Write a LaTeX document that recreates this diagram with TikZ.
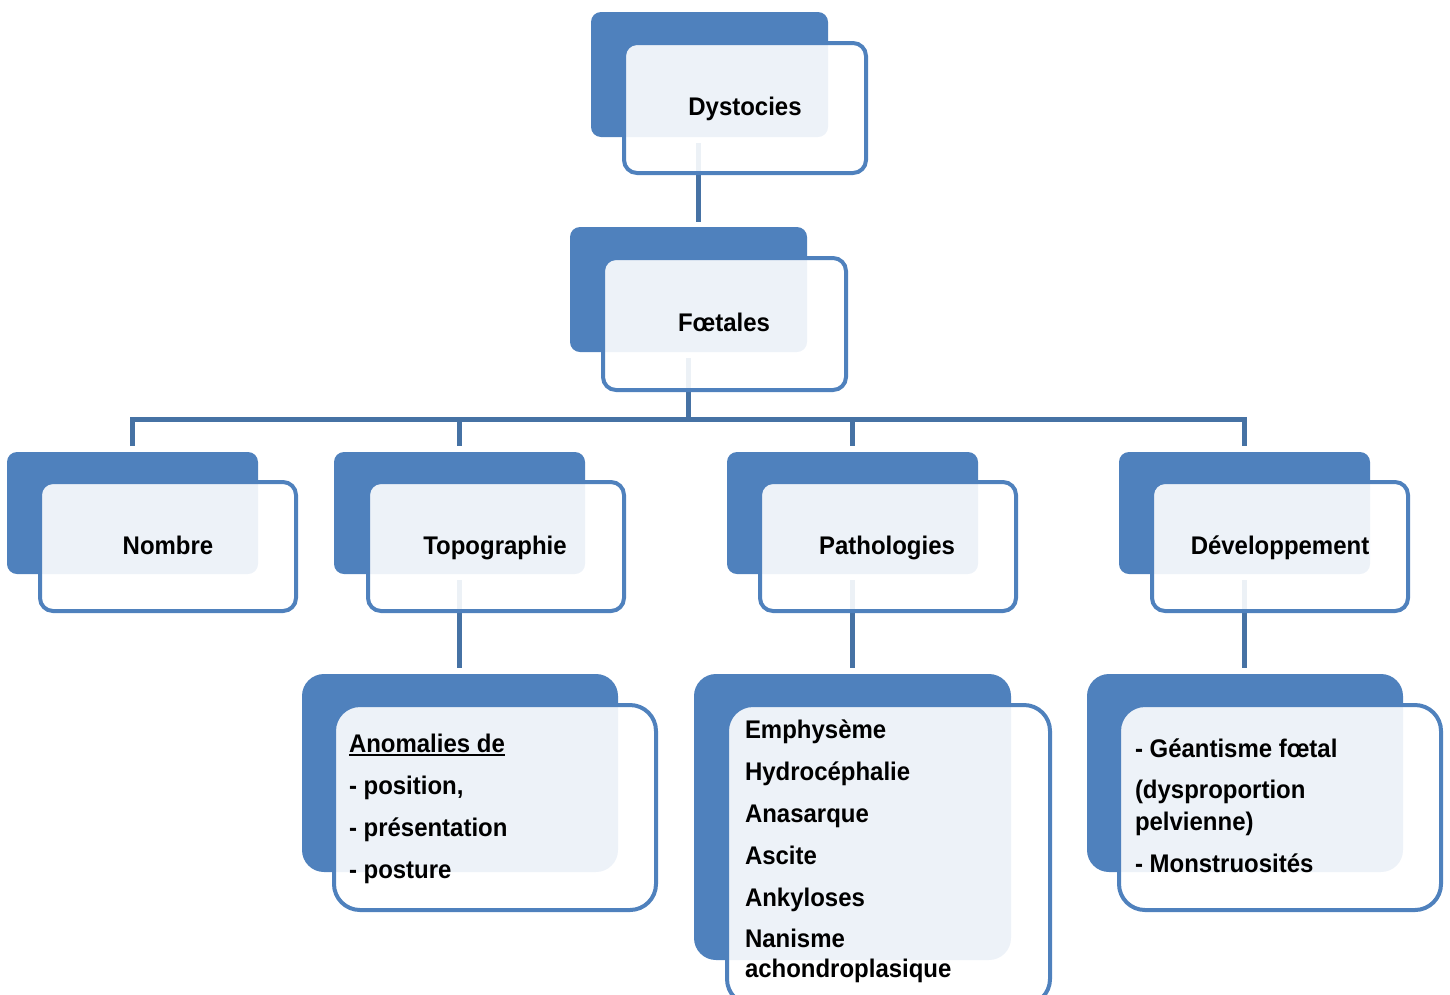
\documentclass[tikz,border=0pt]{standalone}
\usepackage{fontspec}
\setmainfont[FakeStretch=0.94]{Liberation Sans}
\definecolor{boxblue}{HTML}{4F81BD}
\definecolor{connblue}{HTML}{4672A4}
\begin{document}
\begin{tikzpicture}[x=1pt,y=-1pt,
  backbox/.style={shape=rectangle,anchor=north west,fill=boxblue,draw=none,inner sep=0pt,outer sep=0pt,rounded corners=10pt},
  frontbox/.style={shape=rectangle,anchor=north west,draw=boxblue,line width=4pt,fill=white,fill opacity=0.9,inner sep=0pt,outer sep=0pt,rounded corners=13pt},
  bigback/.style={backbox,rounded corners=22pt},
  bigfront/.style={frontbox,rounded corners=26pt},
  conn/.style={draw=connblue,line width=5pt},
  lbl/.style={font=\bfseries\fontsize{25.5}{30}\selectfont,inner sep=0pt,outer sep=0pt,text=black},
  ]
\useasboundingbox (0,0) rectangle (1450,994);
\clip (0,0) rectangle (1450,994);
% back boxes
\node[backbox,minimum width=237pt,minimum height=125pt] (dysB) at (591,12) {};
\node[backbox,minimum width=237pt,minimum height=125pt] (foeB) at (570,227) {};
\node[backbox,minimum width=251pt,minimum height=122pt] (nomB) at (7,452) {};
\node[backbox,minimum width=251pt,minimum height=122pt] (topB) at (334,452) {};
\node[backbox,minimum width=251pt,minimum height=122pt] (patB) at (727,452) {};
\node[backbox,minimum width=251pt,minimum height=122pt] (devB) at (1119,452) {};
\node[bigback,minimum width=316pt,minimum height=198pt] (anoB) at (302,674) {};
\node[bigback,minimum width=317pt,minimum height=286pt] (lstB) at (694,674) {};
\node[bigback,minimum width=316pt,minimum height=198pt] (gntB) at (1087,674) {};
% connectors
\coordinate (d1) at ([xshift=-11.5pt,yshift=-6pt]dysB.south);
\coordinate (f1) at ([yshift=5pt]foeB.north);
\draw[conn] (d1) -- (d1 |- f1);
\coordinate (bus) at (688.5,419);
\draw[conn] ([yshift=-6pt]foeB.south) -- (foeB.south |- bus);
\draw[conn] ([yshift=6pt]nomB.north) |- (bus) -| ([yshift=6pt]devB.north);
\draw[conn] (topB.north |- bus) -- ([yshift=6pt]topB.north);
\draw[conn] (patB.north |- bus) -- ([yshift=6pt]patB.north);
\coordinate (t2) at ([yshift=6pt]anoB.north);
\coordinate (p2) at ([yshift=6pt]lstB.north);
\coordinate (g2) at ([yshift=6pt]gntB.north);
\draw[conn] ([yshift=-6pt]topB.south) -- (topB.south |- t2);
\draw[conn] ([yshift=-6pt]patB.south) -- (patB.south |- p2);
\draw[conn] ([yshift=-6pt]devB.south) -- (devB.south |- g2);
% front boxes
\node[frontbox,minimum width=242pt,minimum height=130pt] (dysF) at (624,43) {};
\node[frontbox,minimum width=243pt,minimum height=132pt] (foeF) at (603,258) {};
\node[frontbox,minimum width=256pt,minimum height=129pt] (nomF) at (40,482) {};
\node[frontbox,minimum width=256pt,minimum height=129pt] (topF) at (368,482) {};
\node[frontbox,minimum width=256pt,minimum height=129pt] (patF) at (760,482) {};
\node[frontbox,minimum width=256pt,minimum height=129pt] (devF) at (1152,482) {};
\node[bigfront,minimum width=322pt,minimum height=205pt] (anoF) at (334,705) {};
\node[bigfront,minimum width=323pt,minimum height=300pt] (lstF) at (727,705) {};
\node[bigfront,minimum width=322pt,minimum height=205pt] (gntF) at (1119,705) {};
% labels
\node[lbl,anchor=base] (tDys) at (745,115) {Dystocies};
\node[lbl,anchor=base] (tFoe) at (724,331) {Fœtales};
\node[lbl,anchor=base] (tNom) at (168,554) {Nombre};
\node[lbl,anchor=base] (tTop) at (495,554) {Topographie};
\node[lbl,anchor=base] (tPat) at (887,554) {Pathologies};
\node[lbl,anchor=base] (tDev) at (1280,554) {Développement};
% Anomalies
\node[lbl,anchor=base west] (a1) at (349,752) {Anomalies de};
\draw[black,line width=1.8pt] ([yshift=-3pt]a1.base west) -- ([yshift=-3pt]a1.base east);
\node[lbl,anchor=base west] (a2) at (349,794) {- position,};
\node[lbl,anchor=base west] (a3) at (349,836) {- présentation};
\node[lbl,anchor=base west] (a4) at (349,878) {- posture};
% Pathologies list
\node[lbl,anchor=base west] (l1) at (745,738) {Emphysème};
\node[lbl,anchor=base west] (l2) at (745,780) {Hydrocéphalie};
\node[lbl,anchor=base west] (l3) at (745,822) {Anasarque};
\node[lbl,anchor=base west] (l4) at (745,864) {Ascite};
\node[lbl,anchor=base west] (l5) at (745,906) {Ankyloses};
\node[lbl,anchor=base west] (l6) at (745,947) {Nanisme};
\node[lbl,anchor=base west] (l7) at (745,977) {achondroplasique};
% Developpement list
\node[lbl,anchor=base west] (g1) at (1135,757) {- Géantisme fœtal};
\node[lbl,anchor=base west] (g3) at (1135,798) {(dysproportion};
\node[lbl,anchor=base west] (g4) at (1135,830) {pelvienne)};
\node[lbl,anchor=base west] (g5) at (1135,872) {- Monstruosités};
\end{tikzpicture}
\end{document}
